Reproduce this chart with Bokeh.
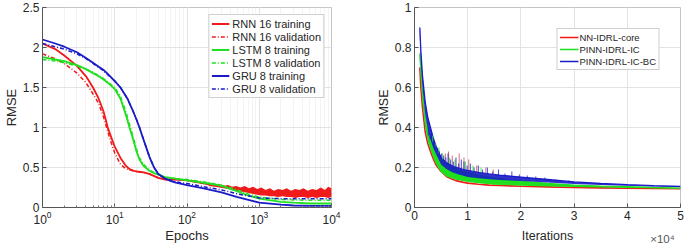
from bokeh.plotting import figure
from bokeh.layouts import row
from bokeh.models import (FixedTicker, CustomJSTickFormatter, Legend, LegendItem,
                          LinearAxis, LogTicker)
from bokeh.embed import file_html
from bokeh.resources import INLINE

FONT = "Liberation Sans"
TXT = "#262626"
RED = "#f01a1a"
GREEN = "#1fe01f"
BLUE = "#1a1ac8"

# ---------------- Left chart data (Epochs, log scale) ----------------
rnn_tr_x = [1, 1.5, 2, 3, 4, 5, 6, 7, 8, 9, 10, 12, 14, 16, 18, 20, 25, 30, 40, 50, 70, 100, 150, 200, 300]
rnn_tr_y = [2.05, 1.98, 1.9, 1.77, 1.64, 1.5, 1.36, 1.2, 1.0, 0.87, 0.76, 0.62, 0.53, 0.48, 0.46, 0.45, 0.44, 0.42, 0.37, 0.35, 0.35, 0.34, 0.31, 0.29, 0.27]
rnn_noise_x = [200, 240, 280, 320, 370, 420, 480, 550, 630, 720, 820, 940, 1070, 1220, 1400, 1600, 1830, 2100, 2400, 2750, 3150, 3600, 4100, 4700, 5400, 6200, 7100, 8100, 9000, 10000]
rnn_noise_hi = [0.30, 0.28, 0.29, 0.27, 0.28, 0.26, 0.27, 0.25, 0.27, 0.24, 0.26, 0.23, 0.25, 0.22, 0.24, 0.21, 0.23, 0.22, 0.24, 0.21, 0.23, 0.22, 0.24, 0.21, 0.23, 0.22, 0.25, 0.22, 0.26, 0.24]
rnn_noise_lo = [0.27, 0.26, 0.25, 0.24, 0.23, 0.22, 0.21, 0.20, 0.19, 0.18, 0.17, 0.16, 0.15, 0.15, 0.14, 0.14, 0.13, 0.14, 0.13, 0.13, 0.12, 0.13, 0.13, 0.12, 0.13, 0.12, 0.13, 0.13, 0.12, 0.13]

rnn_va_x = [1, 1.5, 2, 3, 4, 5, 6, 7, 8, 9, 10, 12, 14, 16, 18, 20, 25, 30, 40, 50, 70, 100, 200, 300, 500, 1000, 2000, 5000, 10000]
rnn_va_y = [1.92, 1.86, 1.8, 1.68, 1.56, 1.42, 1.3, 1.13, 0.95, 0.8, 0.68, 0.54, 0.49, 0.47, 0.46, 0.45, 0.44, 0.42, 0.37, 0.35, 0.35, 0.34, 0.29, 0.27, 0.23, 0.19, 0.18, 0.17, 0.17]

lstm_x = [1, 1.5, 2, 3, 4, 5, 6, 7, 8, 10, 12, 14, 16, 18, 20, 22, 25, 30, 35, 40, 50, 70, 100, 200, 300, 500, 700, 1000, 2000, 3000, 5000, 10000]
lstm_tr_y = [1.88, 1.85, 1.83, 1.78, 1.73, 1.68, 1.64, 1.6, 1.56, 1.48, 1.36, 1.18, 1.0, 0.85, 0.7, 0.6, 0.52, 0.46, 0.43, 0.41, 0.38, 0.36, 0.34, 0.3, 0.27, 0.2, 0.15, 0.11, 0.07, 0.06, 0.05, 0.05]
lstm_va_y = [1.85, 1.83, 1.81, 1.77, 1.73, 1.69, 1.65, 1.61, 1.57, 1.5, 1.39, 1.22, 1.04, 0.88, 0.73, 0.62, 0.54, 0.47, 0.44, 0.41, 0.38, 0.36, 0.35, 0.31, 0.28, 0.22, 0.17, 0.13, 0.1, 0.095, 0.09, 0.09]

gru_x = [1, 1.5, 2, 3, 4, 5, 6, 7, 8, 10, 12, 15, 18, 20, 22, 25, 28, 30, 35, 40, 50, 60, 70, 100, 170, 300, 500, 1000, 2000, 3000, 5000, 10000]
gru_tr_y = [2.1, 2.05, 2.01, 1.94, 1.87, 1.81, 1.76, 1.72, 1.67, 1.58, 1.5, 1.36, 1.2, 1.1, 1.0, 0.85, 0.72, 0.64, 0.5, 0.42, 0.36, 0.33, 0.31, 0.28, 0.24, 0.19, 0.13, 0.06, 0.035, 0.025, 0.02, 0.02]
gru_va_y = [2.05, 2.01, 1.98, 1.92, 1.86, 1.8, 1.75, 1.71, 1.66, 1.58, 1.5, 1.36, 1.2, 1.1, 1.0, 0.85, 0.72, 0.64, 0.5, 0.42, 0.36, 0.34, 0.32, 0.3, 0.26, 0.22, 0.17, 0.12, 0.11, 0.11, 0.11, 0.11]

left_yticks = [0, 0.5, 1, 1.5, 2, 2.5]

# ---------------- Right chart data (Iterations) ----------------
it_x = [1000, 1200, 1500, 2000, 2500, 3000, 3500, 4000, 5000, 6000, 7000, 8000, 9000, 10000, 12000, 14000, 16000, 18000, 20000, 25000, 30000, 35000, 40000, 45000, 50000]
core_y = [0.7, 0.6, 0.5, 0.38, 0.32, 0.28, 0.245, 0.215, 0.18, 0.155, 0.142, 0.133, 0.127, 0.122, 0.116, 0.112, 0.11, 0.108, 0.106, 0.103, 0.1, 0.098, 0.096, 0.095, 0.094]
ic_lo = [0.74, 0.63, 0.52, 0.4, 0.33, 0.29, 0.25, 0.22, 0.175, 0.155, 0.145, 0.138, 0.133, 0.128, 0.121, 0.116, 0.113, 0.111, 0.109, 0.105, 0.102, 0.1, 0.098, 0.096, 0.094]
ic_hi = [0.77, 0.68, 0.58, 0.46, 0.39, 0.35, 0.31, 0.28, 0.24, 0.22, 0.205, 0.192, 0.182, 0.175, 0.162, 0.152, 0.145, 0.138, 0.132, 0.12, 0.112, 0.107, 0.104, 0.1, 0.097]
bc_lo = [0.85, 0.72, 0.6, 0.47, 0.39, 0.34, 0.3, 0.27, 0.215, 0.192, 0.178, 0.168, 0.16, 0.153, 0.146, 0.141, 0.138, 0.135, 0.132, 0.125, 0.118, 0.113, 0.109, 0.105, 0.102]
bc_hi = [0.9, 0.78, 0.66, 0.53, 0.45, 0.4, 0.35, 0.31, 0.25, 0.225, 0.21, 0.2, 0.192, 0.186, 0.176, 0.168, 0.162, 0.157, 0.152, 0.14, 0.128, 0.12, 0.114, 0.109, 0.105]

bc_spike_x = [2600, 2900, 3200, 3600, 3900, 4300, 4700, 5100, 5500, 5900, 6300, 6800, 7300, 7800, 8300, 8800, 9300, 9900, 10500, 11200, 12000, 12800, 13700, 14700, 15800, 17000, 18300, 19700, 21200, 22800, 24500, 26500, 29000]
bc_spike_top = [0.39, 0.36, 0.37, 0.33, 0.31, 0.29, 0.28, 0.27, 0.26, 0.25, 0.27, 0.24, 0.23, 0.25, 0.22, 0.24, 0.23, 0.21, 0.22, 0.2, 0.21, 0.19, 0.2, 0.18, 0.19, 0.17, 0.18, 0.165, 0.16, 0.155, 0.15, 0.14, 0.135]
bc_spike_base = [0.36, 0.34, 0.33, 0.31, 0.29, 0.28, 0.26, 0.25, 0.24, 0.23, 0.222, 0.215, 0.208, 0.203, 0.198, 0.195, 0.192, 0.188, 0.185, 0.18, 0.176, 0.172, 0.169, 0.165, 0.162, 0.158, 0.155, 0.152, 0.148, 0.144, 0.14, 0.133, 0.127]
core_spike_x = [5800, 6400, 7100, 8400, 9300, 10200, 11700, 13400, 14800]
core_spike_top = [0.27, 0.28, 0.26, 0.27, 0.25, 0.24, 0.21, 0.2, 0.19]
core_spike_base = [0.23, 0.222, 0.21, 0.197, 0.19, 0.186, 0.177, 0.17, 0.165]
ic_spike_x = [3400, 4000, 4600, 5300, 6600, 7600, 9600, 11000, 12500]
ic_spike_top = [0.36, 0.32, 0.3, 0.27, 0.25, 0.24, 0.23, 0.21, 0.2]
ic_spike_base = [0.33, 0.3, 0.27, 0.24, 0.218, 0.205, 0.19, 0.18, 0.175]

right_xticks = [0, 10000, 20000, 30000, 40000, 50000]
right_yticks = [0, 0.2, 0.4, 0.6, 0.8, 1]
exp_tick = [46600]


def style(p, tick_size, label_size):
    p.outline_line_color = "#c4c4c4"
    p.background_fill_color = "white"
    p.border_fill_color = "white"
    for ax in p.axis:
        ax.major_label_text_font = FONT
        ax.major_label_text_font_size = tick_size
        ax.major_label_text_color = TXT
        ax.axis_label_text_font = FONT
        ax.axis_label_text_font_size = label_size
        ax.axis_label_text_font_style = "normal"
        ax.axis_label_text_color = TXT
        ax.axis_line_color = "#555555"
        ax.major_tick_line_color = "#555555"
        ax.minor_tick_line_color = "#777777"
        ax.major_tick_in = 4
        ax.major_tick_out = 0
        ax.minor_tick_in = 2
        ax.minor_tick_out = 0
        ax.major_label_standoff = 3
        ax.axis_label_standoff = 1
    p.grid.grid_line_color = "#e3e3e3"


# ---------------- Left figure ----------------
p1 = figure(width=345, height=250, x_axis_type="log", x_range=(1, 1e4), y_range=(0, 2.5),
            output_backend="svg", toolbar_location=None,
            min_border_left=5, min_border_right=14, min_border_top=7, min_border_bottom=43)
style(p1, "12px", "13px")
p1.xaxis.axis_label = "Epochs"
p1.yaxis.axis_label = "RMSE"
p1.xaxis.ticker = LogTicker(num_minor_ticks=10)
p1.yaxis.ticker = FixedTicker(ticks=left_yticks)
p1.yaxis.formatter = CustomJSTickFormatter(code="return tick.toString()")
p1.yaxis.minor_tick_line_color = None
p1.xgrid.minor_grid_line_color = "#f3f3f3"

p1.varea(x=rnn_noise_x, y1=rnn_noise_lo, y2=rnn_noise_hi, fill_color=RED)
r_rnn_tr = p1.line(rnn_tr_x, rnn_tr_y, line_color=RED, line_width=1.8)
r_rnn_va = p1.line(rnn_va_x, rnn_va_y, line_color=RED, line_width=1.5, line_dash="4 2 1 2")
r_lstm_tr = p1.line(lstm_x, lstm_tr_y, line_color=GREEN, line_width=1.8)
r_lstm_va = p1.line(lstm_x, lstm_va_y, line_color=GREEN, line_width=1.5, line_dash="4 2 1 2")
r_gru_tr = p1.line(gru_x, gru_tr_y, line_color=BLUE, line_width=1.8)
r_gru_va = p1.line(gru_x, gru_va_y, line_color=BLUE, line_width=1.5, line_dash="4 2 1 2")

leg1 = Legend(items=[
    LegendItem(label="RNN 16 training", renderers=[r_rnn_tr]),
    LegendItem(label="RNN 16 validation", renderers=[r_rnn_va]),
    LegendItem(label="LSTM 8 training", renderers=[r_lstm_tr]),
    LegendItem(label="LSTM 8 validation", renderers=[r_lstm_va]),
    LegendItem(label="GRU 8 training", renderers=[r_gru_tr]),
    LegendItem(label="GRU 8 validation", renderers=[r_gru_va]),
], location="top_right", margin=7, padding=2, spacing=0,
    label_text_font=FONT, label_text_font_size="11px", label_text_color=TXT,
    label_height=13, glyph_height=13, glyph_width=18, label_standoff=3,
    border_line_color="#a0a0a0", background_fill_alpha=1)
p1.add_layout(leg1)

# ---------------- Right figure ----------------
p2 = figure(width=340, height=250, x_range=(0, 50000), y_range=(0, 1),
            output_backend="svg", toolbar_location=None,
            min_border_left=69, min_border_right=5, min_border_top=7, min_border_bottom=37)
style(p2, "12px", "12.5px")
p2.yaxis.axis_label = "RMSE"
p2.xaxis.ticker = FixedTicker(ticks=right_xticks)
p2.xaxis.formatter = CustomJSTickFormatter(code="return (tick / 10000).toString()")
p2.yaxis.ticker = FixedTicker(ticks=right_yticks)
p2.yaxis.formatter = CustomJSTickFormatter(code="return tick.toString()")
p2.axis.minor_tick_line_color = None

# second, line-less axis below: carries the "Iterations" label and the x10^4 multiplier
exp_axis = LinearAxis(ticker=FixedTicker(ticks=exp_tick),
                      major_label_overrides={exp_tick[0]: "×10⁴"},
                      axis_line_color=None, major_tick_line_color=None,
                      minor_tick_line_color=None,
                      major_label_text_font=FONT, major_label_text_font_size="11.5px",
                      major_label_text_color="#555555", major_label_standoff=4,
                      axis_label="Iterations", axis_label_text_font=FONT,
                      axis_label_text_font_size="12.5px", axis_label_text_font_style="normal",
                      axis_label_text_color=TXT, axis_label_standoff=-19)
p2.add_layout(exp_axis, "below")

r_core = p2.line(it_x, core_y, line_color=RED, line_width=1.6)
p2.varea(x=it_x, y1=ic_lo, y2=ic_hi, fill_color=GREEN)
r_ic = p2.line(it_x, ic_hi, line_color=GREEN, line_width=1.3)
p2.varea(x=it_x, y1=bc_lo, y2=bc_hi, fill_color=BLUE, fill_alpha=0.9)
r_bc = p2.line(it_x, bc_hi, line_color=BLUE, line_width=1.3)
p2.segment(x0=ic_spike_x, y0=ic_spike_base, x1=ic_spike_x, y1=ic_spike_top,
           line_color=GREEN, line_width=0.8)
p2.segment(x0=core_spike_x, y0=core_spike_base, x1=core_spike_x, y1=core_spike_top,
           line_color="#c8504a", line_width=0.8)
p2.segment(x0=bc_spike_x, y0=bc_spike_base, x1=bc_spike_x, y1=bc_spike_top,
           line_color=BLUE, line_width=0.8)

leg2 = Legend(items=[
    LegendItem(label="NN-IDRL-core", renderers=[r_core]),
    LegendItem(label="PINN-IDRL-IC", renderers=[r_ic]),
    LegendItem(label="PINN-IDRL-IC-BC", renderers=[r_bc]),
], location="top_right", margin=21, padding=2, spacing=0,
    label_text_font=FONT, label_text_font_size="9.5px", label_text_color=TXT,
    label_height=12, glyph_height=12, glyph_width=19, label_standoff=1,
    border_line_color="#a0a0a0", background_fill_alpha=1)
p2.add_layout(leg2)

layout = row(p1, p2)
open("out.html", "w").write(file_html(layout, INLINE))
